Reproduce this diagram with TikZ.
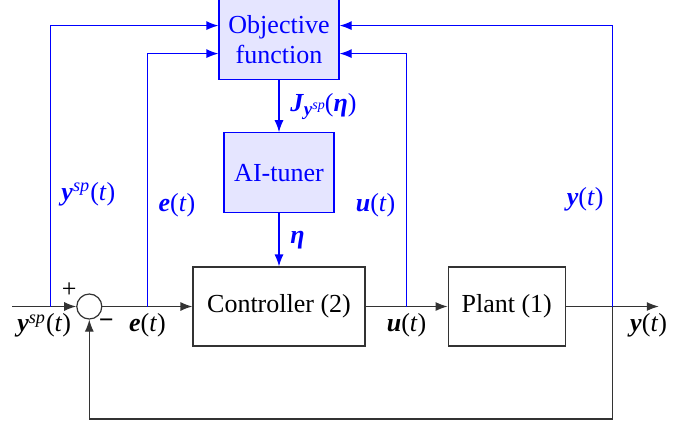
\documentclass[tikz,border=0pt]{standalone}
\usepackage{fontspec}
\setmainfont{Liberation Serif}
\usetikzlibrary{positioning, arrows.meta}

\newcommand{\bv}[1]{\textbf{\textit{#1}}}
\newcommand{\ysp}{\bv{y}\textsuperscript{\textit{sp}}(\textit{t})}
\newcommand{\jlabel}{\bv{J}\raisebox{-0.35ex}{\fontsize{9.5}{9.5}\selectfont\bv{y}\raisebox{0.7ex}{\fontsize{7}{7}\selectfont\textit{sp}}}(\bv{η})}

\begin{document}
\begin{tikzpicture}[>={Latex[length=6pt, width=4.5pt]}, line width=0.6pt, font=\fontsize{13}{15}\selectfont,
    block/.style={draw=black!80, minimum height=39.5pt},
    tunerbox/.style={draw=blue, fill=blue!10, text=blue, minimum height=40pt, align=center},
    sum/.style={circle, draw=black!80, minimum size=12.5pt, inner sep=0pt},
    sig/.style={draw=black!80},
    fbk/.style={draw=blue},
    lbl/.style={text=blue}]
    \useasboundingbox (0,0) rectangle (344.5pt,-212pt);

    \node[block, minimum width=86pt] (ctrl) at (139.5pt,-153.25pt) {Controller (2)};
    \node[block, minimum width=58.5pt] (plant) [right=41pt of ctrl] {Plant (1)};
    \node[sum] (sum) [left=45pt of ctrl] {};
    \node[tunerbox, minimum width=55pt] (tuner) [above=26.5pt of ctrl] {AI-tuner};
    \node[tunerbox, minimum width=60pt] (obj) [above=26pt of tuner] {Objective\\function};

    \coordinate[left=32pt of sum] (in);
    \coordinate[right=19pt of in] (tapysp);
    \coordinate[right=22.5pt of sum] (tape);
    \coordinate[right=20.5pt of ctrl] (tapu);
    \coordinate[right=23.5pt of plant] (tapy);
    \coordinate[right=46.5pt of plant] (out);
    \coordinate[below=56.25pt of tapy] (fb);

    % main loop
    \draw[sig, ->] (in) -- node[below] {\ysp} (sum);
    \draw[sig, ->] (sum) -- (ctrl);
    \draw[sig, ->] (ctrl) -- (plant);
    \draw[sig, ->] (plant) -- node[pos=0.89, below] {\bv{y}(\textit{t})} (out);
    \draw[sig, ->] (tapy) -- (fb) -| (sum.south);
    \node[below] at (tape) {\bv{e}(\textit{t})};
    \node[below] at (tapu) {\bv{u}(\textit{t})};
    \node at ([xshift=-10pt, yshift=8pt]sum.center) {+};
    \node at ([xshift=8.5pt, yshift=-8.5pt]sum.center) {\textbf{−}};

    % tuning loop
    \draw[fbk, ->] (tapysp) |- node[lbl, pos=0.2, right=2pt] {\ysp} ([yshift=7pt]obj.west);
    \draw[fbk, ->] (tape) |- node[lbl, pos=0.2, right=2pt] {\bv{e}(\textit{t})} ([yshift=-7pt]obj.west);
    \draw[fbk, ->] (tapu) |- node[lbl, pos=0.2, left=2pt] {\bv{u}(\textit{t})} ([yshift=-7pt]obj.east);
    \draw[fbk, ->] (tapy) |- node[lbl, pos=0.19, left=1pt] {\bv{y}(\textit{t})} ([yshift=7pt]obj.east);
    \draw[fbk, ->] (obj) -- node[lbl, right=2pt] {\jlabel} (tuner);
    \draw[fbk, ->] (tuner) -- node[lbl, right=2pt] {\bv{η}} (ctrl);
\end{tikzpicture}
\end{document}
